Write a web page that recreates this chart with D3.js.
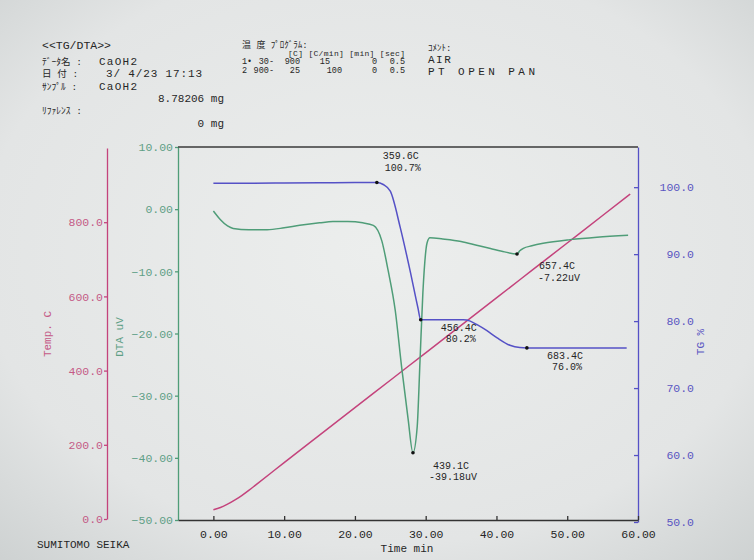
<!DOCTYPE html>
<html><head><meta charset="utf-8">
<script src="https://cdn.jsdelivr.net/npm/d3@7"></script>
<style>body{margin:0;background:#e4e6e6;} svg{display:block}</style>
</head><body><svg id="c" width="754" height="560"></svg>
<script>
// ---------- DATA ----------
const timeTicks = [0, 10, 20, 30, 40, 50, 60];
const tempTicks = [0, 200, 400, 600, 800];
const dtaTicks  = [-50, -40, -30, -20, -10, 0, 10];
const tgTicks   = [50, 60, 70, 80, 90, 100];

const tempTime   = [0, 1, 2, 3, 4, 5, 6, 8, 10, 15, 20, 25, 30, 35, 40, 45, 50, 55, 58.9];
const tempValues = [25, 31, 40, 51, 63, 77, 92, 122, 152, 226, 300, 374, 448, 522, 596, 670, 744, 818, 876];

const dtaTime   = [0, 1, 2, 2.8, 5, 7.6, 10, 12.2, 15, 16.9, 19, 21.1, 22.6, 23.8, 24.7, 25.7, 26.6, 27.5, 28.2, 28.8, 29.2, 29.6, 30.2, 30.6, 32.4, 35, 37.2, 39, 40.9, 42.9, 43.3, 43.8, 45, 46.6, 50.4, 54.2, 58.6];
const dtaValues = [-0.3, -1.7, -2.7, -3.1, -3.3, -3.3, -3.0, -2.6, -2.2, -2.0, -2.0, -2.2, -2.6, -5.1, -9.9, -16.3, -25.4, -33.6, -39.18, -35.0, -24.3, -13.5, -5.4, -4.6, -4.8, -5.2, -5.8, -6.3, -6.8, -7.22, -6.7, -6.3, -5.9, -5.5, -4.9, -4.5, -4.2];

const tgTime   = [0, 5, 10, 15, 20, 23.1, 24.0, 25.0, 26.4, 27.8, 28.9, 29.3, 32, 35.3, 36.3, 37.2, 38.6, 40.1, 41.9, 43.3, 44.3, 50, 58.4];
const tgValues = [100.6, 100.6, 100.62, 100.65, 100.7, 100.7, 100.4, 99.4, 94.0, 87.5, 82.0, 80.2, 80.2, 80.2, 80.0, 79.5, 78.6, 77.5, 76.4, 76.05, 76.0, 76.0, 76.0];

const annoSeries = ["tg", "tg", "tg", "dta", "dta"];
const annoTime   = [23.1, 29.3, 44.3, 28.2, 42.9];
const annoValue  = [100.7, 80.2, 76.0, -39.18, -7.22];
const annoLine1  = ["359.6C", "456.4C", "683.4C", "439.1C", "657.4C"];
const annoLine2  = ["100.7%", "80.2%", "76.0%", "-39.18uV", "-7.22uV"];

// ---------- LAYOUT ----------
const annoDx = [24, 38, 38, 38, 40];
const annoDy = [-23, 11, 11, 16, 15];

const MONO = "'Liberation Mono','DejaVu Sans Mono','Noto Sans CJK JP',monospace";
const C_TEMP = "#c4437c", C_TEMP_T = "#c45a86";
const C_DTA = "#4f9d78",  C_DTA_T = "#5f9f86";
const C_TG = "#5551c6",   C_TG_T = "#5a56c2";
const INK = "#262626";

const svg = d3.select("#c");
const defs = svg.append("defs");
const rg = defs.append("radialGradient").attr("id", "bg").attr("cx", "50%").attr("cy", "45%").attr("r", "75%");
rg.append("stop").attr("offset", "0%").attr("stop-color", "#eceeed");
rg.append("stop").attr("offset", "70%").attr("stop-color", "#e3e5e5");
rg.append("stop").attr("offset", "100%").attr("stop-color", "#cdd1d1");
svg.append("rect").attr("width", 754).attr("height", 560).attr("fill", "url(#bg)");

const x  = d3.scaleLinear([-5, 60], [178, 638]);
const yT = d3.scaleLinear([0, 1000], [519, 148]);
const yD = d3.scaleLinear([-50, 10], [520, 147]);
const yG = d3.scaleLinear([50, 106], [522, 147]);

function styleAxis(g, col, tcol, fs) {
  g.selectAll("path,line").attr("stroke", col).attr("stroke-width", 1.3);
  g.selectAll("text").attr("fill", tcol).attr("font-family", MONO).attr("font-size", fs);
}

// Temp axis
const gT = svg.append("g").attr("transform", "translate(107,0)")
  .call(d3.axisLeft(yT).tickValues(tempTicks).tickFormat(d3.format(".1f")).tickSizeInner(3).tickSizeOuter(0).tickPadding(1));
styleAxis(gT, C_TEMP, C_TEMP_T, 11.5);

// DTA axis
const gD = svg.append("g").attr("transform", "translate(178,0)")
  .call(d3.axisLeft(yD).tickValues(dtaTicks).tickFormat(d3.format(".2f")).tickSizeInner(3).tickSizeOuter(0).tickPadding(2));
styleAxis(gD, C_DTA, C_DTA_T, 11.5);

// TG axis
const gG = svg.append("g").attr("transform", "translate(638,0)")
  .call(d3.axisRight(yG).tickValues(tgTicks).tickFormat(d3.format(".1f")).tickSizeInner(-4).tickSizeOuter(0));
styleAxis(gG, C_TG, C_TG_T, 11.5);
gG.selectAll("text").attr("x", 56).attr("text-anchor", "end");

// X axis
const gX = svg.append("g").attr("transform", "translate(0,520)")
  .call(d3.axisBottom(x).tickValues(timeTicks).tickFormat(d3.format(".2f")).tickSizeInner(-4).tickSizeOuter(0).tickPadding(10));
styleAxis(gX, "#333", INK, 11.5);

// top frame
svg.append("line").attr("x1", x(-5)).attr("x2", x(60)).attr("y1", yD(10)).attr("y2", yD(10))
  .attr("stroke", "#3a3a3a").attr("stroke-width", 1.3);

// Axis titles
function vtitle(tx, ty, txt, col) {
  svg.append("text").attr("transform", `translate(${tx},${ty}) rotate(-90)`)
    .attr("text-anchor", "middle").attr("font-family", MONO).attr("font-size", 11)
    .attr("fill", col).text(txt);
}
vtitle(51, 334, "Temp. C", C_TEMP_T);
vtitle(123, 337, "DTA uV", C_DTA_T);
vtitle(704, 342, "TG %", C_TG_T);
svg.append("text").attr("x", 407).attr("y", 552).attr("text-anchor", "middle")
  .attr("font-family", MONO).attr("font-size", 11).attr("fill", INK).text("Time min");

// Curves
const lineGen = (ys) => d3.line().x(d => x(d[0])).y(d => ys(d[1])).curve(d3.curveMonotoneX);
svg.append("path").datum(d3.zip(tempTime, tempValues)).attr("d", lineGen(yT))
  .attr("fill", "none").attr("stroke", C_TEMP).attr("stroke-width", 1.5);
svg.append("path").datum(d3.zip(dtaTime, dtaValues)).attr("d", lineGen(yD))
  .attr("fill", "none").attr("stroke", C_DTA).attr("stroke-width", 1.5);
svg.append("path").datum(d3.zip(tgTime, tgValues)).attr("d", lineGen(yG))
  .attr("fill", "none").attr("stroke", C_TG).attr("stroke-width", 1.5);

// Annotations
annoTime.forEach((t, i) => {
  const ys = annoSeries[i] === "tg" ? yG : yD;
  const px = x(t), py = ys(annoValue[i]);
  svg.append("circle").attr("cx", px).attr("cy", py).attr("r", 1.8).attr("fill", "#111");
  const g = svg.append("g").attr("font-family", MONO).attr("font-size", 10).attr("fill", INK).attr("text-anchor", "middle");
  g.append("text").attr("x", px + annoDx[i]).attr("y", py + annoDy[i]).text(annoLine1[i]);
  g.append("text").attr("x", px + annoDx[i] + 2).attr("y", py + annoDy[i] + 11.5).text(annoLine2[i]);
});

// Header block
const hdr = svg.append("g").attr("font-family", MONO).attr("fill", INK).attr("font-size", 11);
const hdrLabels = ["<<TG/DTA>>", "ﾃﾞｰﾀ名 :", "日 付 :", "ｻﾝﾌﾟﾙ :", "ﾘﾌｧﾚﾝｽ :"];
const hdrLabelY = [49, 65, 77, 90, 114];
hdrLabels.forEach((s, i) => hdr.append("text").attr("x", 42).attr("y", hdrLabelY[i])
  .attr("font-size", i === 0 ? 11.5 : 9.5).text(s));
hdr.append("text").attr("x", 99).attr("y", 65).attr("textLength", 38).text("CaOH2");
hdr.append("text").attr("x", 106).attr("y", 77).attr("textLength", 96).text("3/ 4/23 17:13");
hdr.append("text").attr("x", 99).attr("y", 90).attr("textLength", 38).text("CaOH2");
hdr.append("text").attr("x", 224).attr("y", 102).attr("text-anchor", "end").text("8.78206 mg");
hdr.append("text").attr("x", 224).attr("y", 127).attr("text-anchor", "end").text("0 mg");

// Temperature program block
const prog = svg.append("g").attr("font-family", MONO).attr("fill", INK).attr("font-size", 8.5);
prog.append("text").attr("x", 242).attr("y", 48).attr("font-size", 9).text("温 度 ﾌﾟﾛｸﾞﾗﾑ:");
prog.append("text").attr("x", 288).attr("y", 56).attr("font-size", 8).attr("textLength", 117).text("[C] [C/min] [min] [sec]");
const progRows = [["1•", "30-", "900", "15", "0", "0.5"], ["2", "900-", "25", "100", "0", "0.5"]];
const progColEnd = [[252, 274, 300, 330, 377, 405], [247, 274, 300, 342, 377, 405]];
progRows.forEach((r, ri) => r.forEach((s, ci) => {
  prog.append("text").attr("x", ci === 0 ? 242 : progColEnd[ri][ci]).attr("y", 64 + ri * 8.5)
    .attr("text-anchor", ci === 0 ? "start" : "end").text(s);
}));

// Comment block
const cm = svg.append("g").attr("font-family", MONO).attr("fill", INK).attr("font-size", 11);
cm.append("text").attr("x", 428).attr("y", 51).attr("font-size", 9).text("ｺﾒﾝﾄ:");
cm.append("text").attr("x", 428).attr("y", 63).attr("letter-spacing", 1.5).text("AIR");
cm.append("text").attr("x", 428).attr("y", 75).attr("textLength", 107).text("PT OPEN PAN");

// Footer
svg.append("text").attr("x", 37).attr("y", 548).attr("font-family", MONO).attr("font-size", 11)
  .attr("fill", INK).text("SUMITOMO SEIKA");
</script>
</body></html>
